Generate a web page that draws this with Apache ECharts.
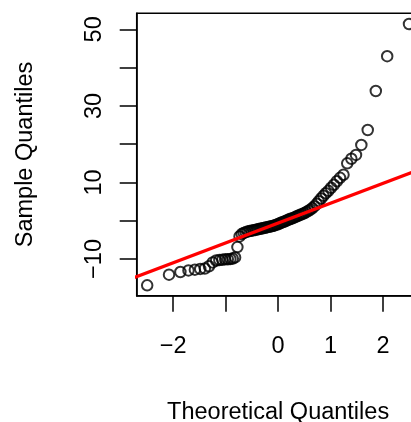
<!DOCTYPE html>
<html>
<head>
<meta charset="utf-8">
<script src="https://cdn.jsdelivr.net/npm/echarts@6/dist/echarts.min.js"></script>
<style>
  html, body { margin: 0; padding: 0; background: #fff; }
  #chart { width: 411px; height: 422px; }
</style>
</head>
<body>
<div id="chart"></div>
<script>
// theoretical normal quantiles, n = 80
var theoretical = [
  -2.496, -2.080, -1.863, -1.709, -1.587, -1.485, -1.397, -1.318, -1.247, -1.181,
  -1.120, -1.064, -1.010, -0.959, -0.910, -0.864, -0.820, -0.776, -0.735, -0.694,
  -0.655, -0.616, -0.579, -0.542, -0.506, -0.471, -0.436, -0.402, -0.369, -0.335,
  -0.302, -0.270, -0.237, -0.205, -0.173, -0.141, -0.110, -0.078, -0.047, -0.016,
  0.016, 0.047, 0.078, 0.110, 0.141, 0.173, 0.205, 0.237, 0.270, 0.302,
  0.335, 0.369, 0.402, 0.436, 0.471, 0.506, 0.542, 0.579, 0.616, 0.655,
  0.694, 0.735, 0.776, 0.820, 0.864, 0.910, 0.959, 1.010, 1.064, 1.120,
  1.181, 1.247, 1.318, 1.397, 1.485, 1.587, 1.709, 1.863, 2.080, 2.496
];
// sample quantiles (sorted data)
var sample = [
  -16.9, -14.1, -13.4, -13.0, -12.8, -12.6, -12.5, -11.9, -10.9, -10.4,
  -10.3, -10.2, -10.1, -10.1, -10.0, -9.9, -9.6, -6.9, -4.1, -3.5,
  -3.2, -3.0, -2.8, -2.7, -2.6, -2.5, -2.4, -2.3, -2.2, -2.1,
  -2.0, -1.9, -1.8, -1.7, -1.6, -1.5, -1.4, -1.3, -1.1, -1.0,
  -0.8, -0.6, -0.4, -0.3, -0.1, 0.1, 0.3, 0.5, 0.6, 0.8,
  1.0, 1.2, 1.4, 1.6, 1.8, 2.0, 2.3, 2.6, 2.9, 3.3,
  3.8, 4.4, 5.1, 5.8, 6.5, 7.2, 7.8, 8.6, 9.4, 10.3,
  11.2, 12.0, 15.0, 16.2, 17.2, 19.8, 23.7, 33.9, 43.0, 51.4
];
// qqline end points
var lineX = [-3, 3];
var lineY = [-16.21, 14.93];

var xTicks = [-2, -1, 0, 1, 2];
var xLabels = [-2, 0, 1, 2];
var yTicks = [-10, 0, 10, 20, 30, 40, 50];
var yLabels = [-10, 10, 30, 50];

var points = theoretical.map(function (x, i) { return [x, sample[i]]; });
var linePts = lineX.map(function (x, i) { return [x, lineY[i]]; });

function minus(v) {
  return v < 0 ? '\u2212' + Math.abs(v) : String(v);
}

var font = 'Liberation Sans, Arial, Helvetica, sans-serif';

var myChart = echarts.init(document.getElementById('chart'));
var option = {
  animation: false,
  backgroundColor: '#fff',
  grid: {
    left: 136.7,
    top: 13.3,
    right: -8.5,
    bottom: 126.3,
    show: true,
    borderColor: '#000',
    borderWidth: 1.5,
    containLabel: false,
    outerBoundsMode: 'none'
  },
  xAxis: {
    type: 'value',
    min: -2.696,
    max: 2.696,
    name: 'Theoretical Quantiles',
    nameLocation: 'middle',
    nameGap: 105,
    nameTextStyle: { color: '#000', fontSize: 23.5, fontFamily: font, verticalAlign: 'top' },
    axisLine: { show: true, onZero: false, lineStyle: { color: '#000', width: 1.5 } },
    axisTick: { show: true, customValues: xTicks, length: 16, lineStyle: { color: '#000', width: 1.5 } },
    axisLabel: {
      customValues: xLabels,
      margin: 51,
      color: '#000',
      fontSize: 23.5,
      fontFamily: font,
      verticalAlign: 'middle',
      formatter: minus
    },
    splitLine: { show: false }
  },
  yAxis: {
    type: 'value',
    min: -19.6,
    max: 54.2,
    name: 'Sample Quantiles',
    nameLocation: 'middle',
    nameGap: 99,
    nameRotate: 90,
    nameTextStyle: { color: '#000', fontSize: 23.5, fontFamily: font },
    axisLine: { show: true, onZero: false, lineStyle: { color: '#000', width: 1.5 } },
    axisTick: { show: true, customValues: yTicks, length: 17, lineStyle: { color: '#000', width: 1.5 } },
    axisLabel: {
      customValues: yLabels,
      rotate: 90,
      margin: 30,
      color: '#000',
      fontSize: 23.5,
      fontFamily: font,
      align: 'center',
      formatter: minus
    },
    splitLine: { show: false }
  },
  series: [
    {
      type: 'scatter',
      data: points,
      symbol: 'circle',
      symbolSize: 10.5,
      clip: false,
      itemStyle: { color: 'rgba(0,0,0,0)', borderColor: '#000', borderWidth: 2 },
      z: 2
    },
    {
      type: 'line',
      data: linePts,
      symbol: 'none',
      clip: true,
      lineStyle: { color: '#ff0000', width: 3.3 },
      z: 3
    }
  ]
};
myChart.setOption(option);
window.addEventListener('resize', function () {
  myChart.resize();
});
</script>
</body>
</html>
